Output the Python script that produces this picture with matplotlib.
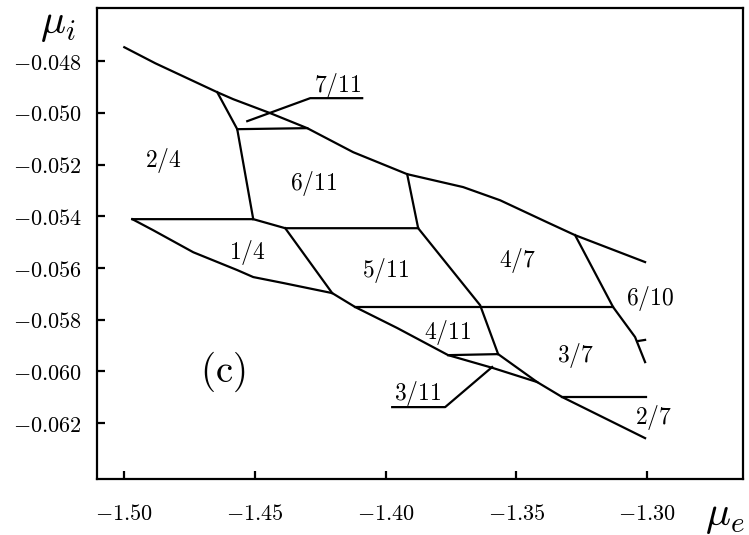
import matplotlib
matplotlib.use("Agg")
import matplotlib.pyplot as plt

plt.rcParams["mathtext.fontset"] = "cm"
plt.rcParams["font.family"] = "DejaVu Serif"

# outer boundaries of the phase region
upper_x = [-1.5000, -1.48815, -1.46444, -1.45832, -1.44417, -1.43002, -1.41243,
           -1.39178, -1.37036, -1.35621, -1.33824, -1.32753, -1.30076]
upper_y = [-0.04746, -0.04808, -0.04920, -0.04947, -0.05001, -0.05059, -0.05152,
           -0.05237, -0.05287, -0.05338, -0.05423, -0.05473, -0.05577]

lower_x = [-1.49694, -1.48891, -1.47361, -1.45679, -1.45067, -1.43920, -1.42046,
           -1.41166, -1.39560, -1.37610, -1.35889, -1.34207, -1.33250, -1.30076]
lower_y = [-0.05411, -0.05454, -0.05539, -0.05608, -0.05635, -0.05658, -0.05697,
           -0.05751, -0.05832, -0.05937, -0.05987, -0.06041, -0.06099, -0.06258]

# internal phase boundaries
b_7_11_left = ([-1.46444, -1.45679, -1.45067], [-0.04920, -0.05063, -0.05411])
b_7_11_low = ([-1.45679, -1.43002], [-0.05063, -0.05059])
b_2_4_1_4 = ([-1.49694, -1.45067, -1.43843, -1.38757], [-0.05411, -0.05411, -0.05446, -0.05446])
b_1_4_5_11 = ([-1.43843, -1.42046], [-0.05446, -0.05697])
b_5_11_4_7 = ([-1.39178, -1.38757, -1.36386, -1.35698], [-0.05237, -0.05446, -0.05744, -0.05933])
b_5_11_4_11 = ([-1.41166, -1.31300], [-0.05751, -0.05751])
b_4_11_3_11 = ([-1.37610, -1.35698, -1.34207], [-0.05937, -0.05933, -0.06041])
b_4_7_6_10 = ([-1.32753, -1.31300, -1.30459, -1.30076], [-0.05473, -0.05751, -0.05867, -0.05964])
b_6_10_tick = ([-1.30382, -1.30076], [-0.05883, -0.05878])
b_3_7_2_7 = ([-1.33250, -1.30038], [-0.06099, -0.06099])

# pointer lines for the narrow phases
lead_7_11 = ([-1.45296, -1.42887, -1.40899], [-0.05032, -0.04943, -0.04943])
lead_3_11 = ([-1.35927, -1.37725, -1.39751], [-0.05983, -0.06138, -0.06138])

phase_names = ["2/4", "7/11", "6/11", "1/4", "5/11", "4/7", "6/10",
               "4/11", "3/7", "3/11", "2/7"]
phase_x = [-1.48509, -1.41855, -1.42772, -1.45296, -1.40019, -1.34971, -1.29885,
           -1.37610, -1.32753, -1.38757, -1.29771]
phase_y = [-0.05183, -0.04893, -0.05272, -0.05539, -0.05608, -0.05570, -0.05716,
           -0.05848, -0.05937, -0.06084, -0.06177]

xticks = [-1.50, -1.45, -1.40, -1.35, -1.30]
yticks = [-0.048, -0.050, -0.052, -0.054, -0.056, -0.058, -0.060, -0.062]

fig = plt.figure(figsize=(7.49, 5.35), dpi=100)
ax = fig.add_axes([0.130, 0.1047, 0.862, 0.880])

lw = 1.6
ax.plot(upper_x, upper_y, color="black", lw=lw)
ax.plot(lower_x, lower_y, color="black", lw=lw)
for seg in [b_7_11_left, b_7_11_low, b_2_4_1_4, b_1_4_5_11, b_5_11_4_7,
            b_5_11_4_11, b_4_11_3_11, b_4_7_6_10, b_6_10_tick, b_3_7_2_7,
            lead_7_11, lead_3_11]:
    ax.plot(seg[0], seg[1], color="black", lw=lw)

for name, x, y in zip(phase_names, phase_x, phase_y):
    ax.text(x, y, "$%s$" % name, fontsize=17, ha="center", va="center")

ax.text(-1.46214, -0.06003, r"$\mathrm{(c)}$", fontsize=28, ha="center", va="center")

ax.set_xlim(-1.5103, -1.2633)
ax.set_ylim(-0.06416, -0.04595)
ax.set_xticks(xticks)
ax.set_xticklabels(["$%.2f$" % v for v in xticks])
ax.set_yticks(yticks)
ax.set_yticklabels(["$%.3f$" % v for v in yticks])
ax.tick_params(direction="in", length=6, width=1.6, labelsize=16)
ax.tick_params(axis="x", pad=17)
ax.tick_params(axis="y", pad=11)
for sp in ax.spines.values():
    sp.set_linewidth(1.6)

fig.text(58 / 749, 1 - 23 / 535, r"$\mu_i$", fontsize=30, ha="center", va="center")
fig.text(725 / 749, 1 - 515 / 535, r"$\mu_e$", fontsize=30, ha="center", va="center")

fig.savefig("out.png", dpi=100)
